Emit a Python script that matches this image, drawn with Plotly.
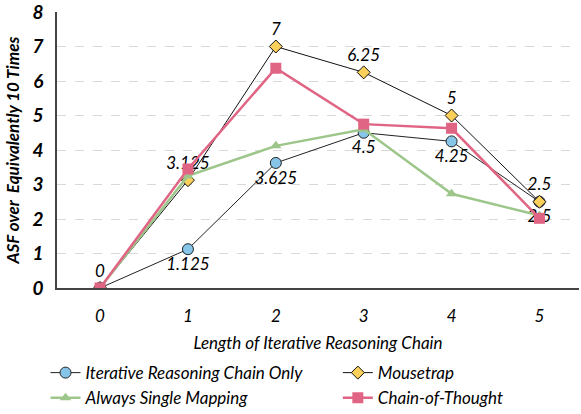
import plotly.graph_objects as go

x_vals = [0, 1, 2, 3, 4, 5]
irc_only = [0, 1.125, 3.625, 4.5, 4.25, 2.5]
mousetrap = [0, 3.125, 7, 6.25, 5, 2.5]
single_map = [0, 3.25, 4.12, 4.6, 2.73, 2.1]
cot = [0, 3.45, 6.37, 4.75, 4.63, 2.02]
irc_labels = ["", "1.125", "3.625", "4.5", "4.25", "2.5"]
mt_labels = ["0", "3.125", "7", "6.25", "5", "2.5"]

FONT = "Lato"
lab_font = dict(family=FONT, size=17, color="black", style="italic")
leg_font = dict(family=FONT, size=17, style="italic", color="black")

fig = go.Figure()
fig.add_trace(go.Scatter(
    x=x_vals, y=irc_only, name="Iterative Reasoning Chain Only", legend="legend",
    mode="lines+markers+text", text=irc_labels, textposition="bottom center",
    textfont=lab_font,
    line=dict(color="#222222", width=1),
    marker=dict(symbol="circle", size=11, color="#86C5E8", line=dict(color="#222222", width=1)),
))
fig.add_trace(go.Scatter(
    x=x_vals, y=mousetrap, name="Mousetrap", legend="legend2",
    mode="lines+markers+text", text=mt_labels, textposition="top center",
    textfont=lab_font,
    line=dict(color="#111111", width=1),
    marker=dict(symbol="diamond", size=10, color="#FAD05A", line=dict(color="#111111", width=1)),
))
fig.add_trace(go.Scatter(
    x=x_vals, y=single_map, name="Always Single Mapping", legend="legend",
    mode="lines+markers",
    line=dict(color="#9DC68A", width=2.5),
    marker=dict(symbol="triangle-up", size=10, color="#9DC68A"),
))
fig.add_trace(go.Scatter(
    x=x_vals, y=cot, name="Chain-of-Thought", legend="legend2",
    mode="lines+markers",
    line=dict(color="#E06585", width=2.5),
    marker=dict(symbol="square", size=11, color="#E06585"),
))

fig.update_layout(
    width=581, height=414,
    margin=dict(l=57, r=2, t=12, b=126, autoexpand=False),
    paper_bgcolor="white", plot_bgcolor="white",
    font=dict(family=FONT, color="black"),
    showlegend=True,
    legend=dict(
        orientation="v", x=-0.022, xanchor="left", y=-0.243, yanchor="top",
        font=leg_font, tracegroupgap=0, itemwidth=30, traceorder="normal",
    ),
    legend2=dict(
        orientation="v", x=0.538, xanchor="left", y=-0.243, yanchor="top",
        font=leg_font, tracegroupgap=0, itemwidth=30, traceorder="normal",
    ),
    xaxis=dict(
        range=[-0.49, 5.45], tickvals=x_vals, showgrid=False, automargin=False,
        showline=True, linecolor="#444444", linewidth=1.5,
        ticks="", ticklabelstandoff=12,
        tickfont=dict(family=FONT, size=17, style="italic", color="black"),
        title=dict(text="Length of Iterative Reasoning Chain", standoff=12,
                   font=dict(family=FONT, size=17, style="italic", color="black")),
        zeroline=False,
    ),
    yaxis=dict(
        range=[0, 8], dtick=1, showgrid=True, gridcolor="#D9D9D9", griddash="dash",
        showline=True, linecolor="#444444", linewidth=1.5, automargin=False,
        ticks="", zeroline=False, ticklabelstandoff=8, ticklabeloverflow="allow",
        tickfont=dict(family=FONT, size=19, style="italic", weight="bold", color="black"),
        title=dict(text="ASF over  Equivalently 10 Times", standoff=8,
                   font=dict(family=FONT, size=17, style="italic", weight="bold", color="black")),
    ),
)

fig.write_html("out.html", config={"displayModeBar": False},
               post_script="document.body.style.margin='0px';")
